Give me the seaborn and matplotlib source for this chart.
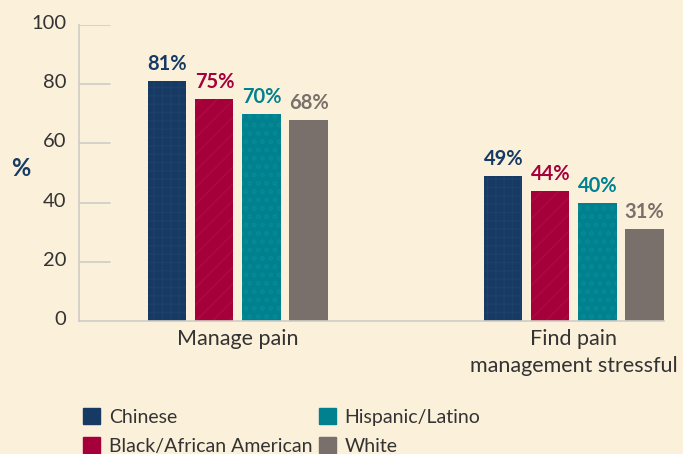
import pandas as pd
import matplotlib
matplotlib.use("Agg")
import matplotlib.pyplot as plt
import matplotlib.transforms as mtransforms
import seaborn as sns

# data
questions = ["Manage pain", "Find pain\nmanagement stressful"]
groups = ["Chinese", "Black/African American", "Hispanic/Latino", "White"]
manage_pain = [81, 75, 70, 68]
stressful = [49, 44, 40, 31]

colors = ["#163A64", "#A6003A", "#00818F", "#7A706B"]
hatch_colors = ["#1C4069", "#AD0A3E", "#078893", "#7A706B"]
hatches = ["++", "//", "oo", ""]
bg = "#FBF0D9"
grey = "#CFCCC6"

rows = []
for g, a, b in zip(groups, manage_pain, stressful):
    rows.append({"question": questions[0], "group": g, "pct": a})
    rows.append({"question": questions[1], "group": g, "pct": b})
df = pd.DataFrame(rows)

sns.set_theme(style="white")
plt.rcParams["font.family"] = ["Lato", "DejaVu Sans"]
plt.rcParams["hatch.linewidth"] = 1.0

fig = plt.figure(figsize=(6.83, 4.54), dpi=100, facecolor=bg)
ax = fig.add_axes([0.1157, 0.293, 0.856, 0.652])
ax.set_facecolor(bg)

sns.barplot(data=df, x="question", y="pct", hue="group", order=questions,
            hue_order=groups, palette=colors, width=0.56, gap=0.19,
            saturation=1, ax=ax, legend=False)

for i, cont in enumerate(ax.containers):
    for bar in cont:
        bar.set_hatch(hatches[i])
        bar.set_edgecolor(hatch_colors[i])
        bar.set_linewidth(0)
    ax.bar_label(cont, labels=[f"{v:.0f}%" for v in cont.datavalues],
                 padding=5, color=colors[i], fontsize=14.5, fontweight="bold")

ax.set_xlim(-0.473, 1.267)
ax.set_ylim(0, 100)
ax.set_yticks([0, 20, 40, 60, 80, 100])
for y in [20, 40, 60, 80, 100]:
    ax.axhline(y, xmin=0, xmax=0.053, color=grey, lw=1.2, zorder=0)

ax.tick_params(axis="y", length=0, pad=9, labelsize=14.5, labelcolor="#333333")
ax.tick_params(axis="x", length=0, pad=6, labelsize=15.5, labelcolor="#333333")
# y labels sit a little above their lines in the reference
shift = mtransforms.ScaledTranslation(0, 3 / 100, fig.dpi_scale_trans)
for lab in ax.get_yticklabels():
    lab.set_transform(lab.get_transform() + shift)
for lab in ax.get_xticklabels():
    lab.set_linespacing(1.4)

ax.set_xlabel("")
ax.set_ylabel("%", rotation=0, fontsize=17, fontweight="bold", color="#163A64",
              labelpad=0, va="center", ha="center")
ax.yaxis.set_label_coords(-0.1, 0.515)

sns.despine(ax=ax, top=True, right=True)
for s in ["left", "bottom"]:
    ax.spines[s].set_color(grey)
    ax.spines[s].set_linewidth(1.2)

handles = [plt.Rectangle((0, 0), 1, 1, color=c) for c in colors]
fig.legend(handles, groups, loc="upper left", bbox_to_anchor=(0.108, 0.122),
           ncol=2, frameon=False, fontsize=14, handlelength=0.85,
           handleheight=0.85, handletextpad=0.45, columnspacing=0.35,
           labelspacing=0.6, borderpad=0, labelcolor="#333333")

fig.savefig("out.png", dpi=100, facecolor=bg)
